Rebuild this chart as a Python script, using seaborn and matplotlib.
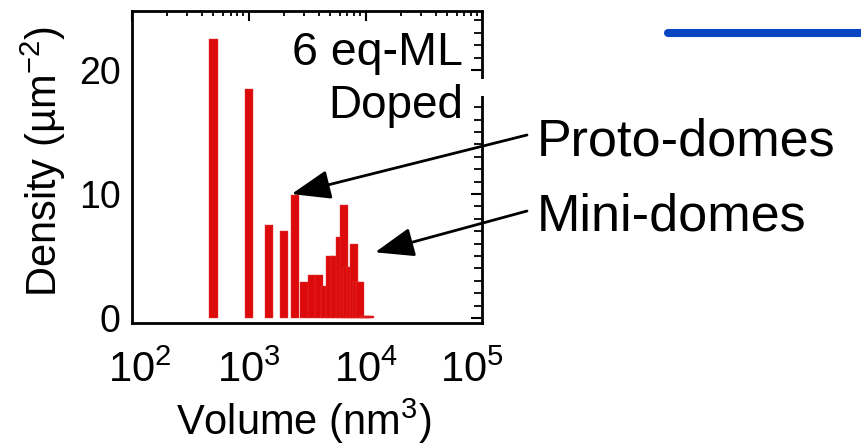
import numpy as np
import pandas as pd
import matplotlib
matplotlib.use("Agg")
import matplotlib.pyplot as plt
import seaborn as sns
from matplotlib.ticker import MultipleLocator, LogLocator, NullFormatter
from matplotlib.lines import Line2D
from matplotlib.patches import Rectangle
from matplotlib.transforms import ScaledTranslation

# ---------------- data ----------------
volume_nm3 = [500, 1000, 1500, 2000, 2500, 3000, 3500, 4000, 4500, 5000, 5500,
              6000, 6500, 7000, 7500, 8000, 8500, 9000, 9500, 10000, 10500, 11000]
density_um2 = [22.5, 18.5, 7.5, 7.0, 9.9, 2.9, 3.45, 3.45, 2.6, 5.0, 5.0,
               6.5, 9.1, 4.1, 4.1, 6.0, 2.9, 2.9, 0.2, 0.2, 0.2, 0.2]
x_ticks = [1e2, 1e3, 1e4, 1e5]
y_ticks = [0, 10, 20]
sample_lines = ["6 eq-ML", "Doped"]
arrow_labels = ["Proto-domes", "Mini-domes"]
x_label = "Volume (nm$^{3}$)"
y_label = "Density (µm$^{-2}$)"

# ---------------- style ----------------
sns.set_theme(style="white")
plt.rcParams.update({
    "mathtext.fontset": "custom",
    "mathtext.rm": "Liberation Sans",
    "mathtext.it": "Liberation Sans:italic",
    "mathtext.bf": "Liberation Sans:bold",
    "mathtext.sf": "Liberation Sans",
    "mathtext.default": "regular",
    "axes.edgecolor": "black",
    "text.color": "black",
    "axes.labelcolor": "black",
    "xtick.color": "black",
    "ytick.color": "black",
})
plt.rcParams["font.family"] = ["Liberation Sans", "DejaVu Sans"]

W, H = 861, 445
fig = plt.figure(figsize=(W / 100, H / 100), dpi=100, facecolor="white")


def fx(px):
    return px / W


def fy(py):
    return 1 - py / H


ax = fig.add_axes([fx(131.7), fy(323), fx(482.5) - fx(131.7), fy(11) - fy(323)])

df = pd.DataFrame({"volume": volume_nm3, "density": density_um2})
bar_log_width = 0.07
native = np.diff(np.log10(np.unique(volume_nm3))).min()
sns.barplot(data=df, x="volume", y="density", native_scale=True,
            log_scale=(True, False), width=bar_log_width / native,
            color="#dc0a0a", saturation=1, errorbar=None,
            edgecolor="#e34040", linewidth=0.3, ax=ax)

ax.set_xlim(1e2, 1e5)
ax.set_ylim(-0.4, 24.76)
ax.set_xticks(x_ticks)
ax.xaxis.set_minor_locator(LogLocator(base=10, subs=np.arange(2, 10), numticks=20))
ax.xaxis.set_minor_formatter(NullFormatter())
ax.set_yticks(y_ticks)
ax.yaxis.set_minor_locator(MultipleLocator(1))

for s in ax.spines.values():
    s.set_visible(True)
    s.set_linewidth(2)
    s.set_color("black")

ax.tick_params(which="both", direction="in", top=True, right=True)
ax.tick_params(axis="x", which="major", length=7, width=1.5, labelsize=30, pad=20)
ax.tick_params(axis="x", which="minor", length=3.5, width=1.3)
ax.tick_params(axis="y", which="major", length=8, width=1.5, labelsize=27, pad=8)
ax.tick_params(axis="y", which="minor", length=5.5, width=1.3)

ax.set_xlabel(x_label, fontsize=30, va="center")
ax.xaxis.set_label_coords(0.49, -0.314)
ax.set_ylabel(y_label, fontsize=30, va="center")
ax.yaxis.set_label_coords(-0.253, 0.516)

# inset text
ax.text(0.944, 0.827, sample_lines[0], transform=ax.transAxes, ha="right",
        va="baseline", fontsize=33.5)
ax.text(0.944, 0.657, sample_lines[1], transform=ax.transAxes, ha="right",
        va="baseline", fontsize=33)

# arrows + labels
arrow_style = "-|>,head_length=1.6,head_width=0.6"
ax.annotate("", xy=(2330, 10.0), xycoords="data",
            xytext=(fx(527), fy(135)), textcoords="figure fraction",
            arrowprops=dict(arrowstyle=arrow_style, mutation_scale=15, lw=2,
                            color="black", shrinkA=0, shrinkB=0),
            annotation_clip=False)
ax.annotate("", xy=(12050, 5.3), xycoords="data",
            xytext=(fx(527), fy(211)), textcoords="figure fraction",
            arrowprops=dict(arrowstyle=arrow_style, mutation_scale=15, lw=2,
                            color="black", shrinkA=0, shrinkB=0),
            annotation_clip=False)
fig.text(fx(537), fy(155), arrow_labels[0], fontsize=37.5, ha="left", va="baseline")
fig.text(fx(537), fy(230), arrow_labels[1], fontsize=37.5, ha="left", va="baseline")

# break in right frame
fig.add_artist(Rectangle((fx(472), fy(96)), fx(492) - fx(472), fy(79) - fy(96),
                         transform=fig.transFigure, facecolor="white",
                         edgecolor="none", zorder=5))

# blue line of neighbouring panel
fig.add_artist(Line2D([fx(668), fx(875)], [fy(32.5), fy(32.5)],
                      transform=fig.transFigure, color="#0a45c4", lw=5.8,
                      solid_capstyle="round"))

# inward shift of end tick labels
ticks = ax.xaxis.get_major_ticks()
ticks[0].label1.set_transform(ticks[0].label1.get_transform()
                              + ScaledTranslation(8 / 100, 0, fig.dpi_scale_trans))
ticks[-1].label1.set_transform(ticks[-1].label1.get_transform()
                               + ScaledTranslation(-11 / 100, 0, fig.dpi_scale_trans))

fig.savefig("out.png", dpi=100, facecolor="white")
